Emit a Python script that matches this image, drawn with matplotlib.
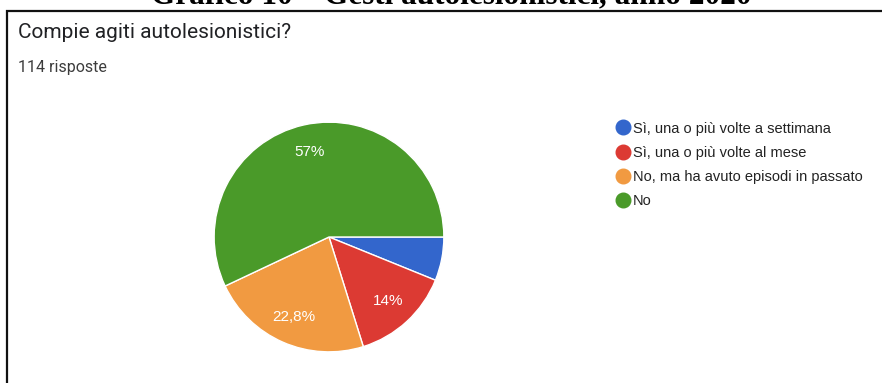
import matplotlib.pyplot as plt
from matplotlib.patches import Rectangle
from matplotlib.lines import Line2D

# data
categories = ['Sì, una o più volte a settimana', 'Sì, una o più volte al mese',
              'No, ma ha avuto episodi in passato', 'No']
counts = [7, 16, 26, 65]
colors = ['#3366cc', '#dc3a33', '#f19a41', '#4a9a29']
n_risposte = sum(counts)

W, H = 882, 383
fig = plt.figure(figsize=(W / 100, H / 100), dpi=100)

# bordo del riquadro (si vede solo in alto e a sinistra)
fig.patches.append(Rectangle((7 / W, -0.1), 1.2, (H - 11) / H + 0.1, transform=fig.transFigure,
                             fill=False, edgecolor='#111111', linewidth=1.6))

# didascalia tagliata in alto, come nel documento originale
fig.text(451 / W, 1 - 3 / H, 'Grafico 10 – Gesti autolesionistici, anno 2020',
         ha='center', va='baseline', family='Liberation Serif', weight='bold', fontsize=22.5)

fig.text(18 / W, 1 - 38 / H, 'Compie agiti autolesionistici?', ha='left', va='baseline',
         family='Roboto', fontsize=15, color='#202124')
fig.text(18 / W, 1 - 72 / H, f'{n_risposte} risposte', ha='left', va='baseline',
         family='Roboto', fontsize=11.5, color='#3c3c3c')

# torta
cx, cy, r = 329, 237, 116
ax = fig.add_axes([(cx - r) / W, (H - cy - r) / H, 2 * r / W, 2 * r / H])


def etichetta(p):
    if p < 10:
        return ''
    s = f'{p:.1f}'.replace('.', ',')
    if s.endswith(',0'):
        s = s[:-2]
    return s + '%'


wedges, texts, autotexts = ax.pie(counts, colors=colors, startangle=0, counterclock=False,
                                  autopct=etichetta, pctdistance=0.76, radius=1,
                                  wedgeprops=dict(edgecolor='white', linewidth=1),
                                  textprops=dict(color='white', fontsize=11,
                                                 family='Liberation Sans'))
ax.set_xlim(-1.01, 1.01)
ax.set_ylim(-1.01, 1.01)
ax.axis('off')

# legenda
handles = [Line2D([], [], marker='o', linestyle='', markersize=10.5, markerfacecolor=c,
                  markeredgecolor=c) for c in colors]
fig.legend(handles, categories, loc='upper left', bbox_to_anchor=(614 / W, 1 - 121.5 / H),
           frameon=False, prop=dict(family='Liberation Sans', size=10.5),
           handletextpad=0.12, labelspacing=0.7, handlelength=1.2, borderaxespad=0,
           borderpad=0, labelcolor='#222222')

fig.savefig('out.png', dpi=100)
